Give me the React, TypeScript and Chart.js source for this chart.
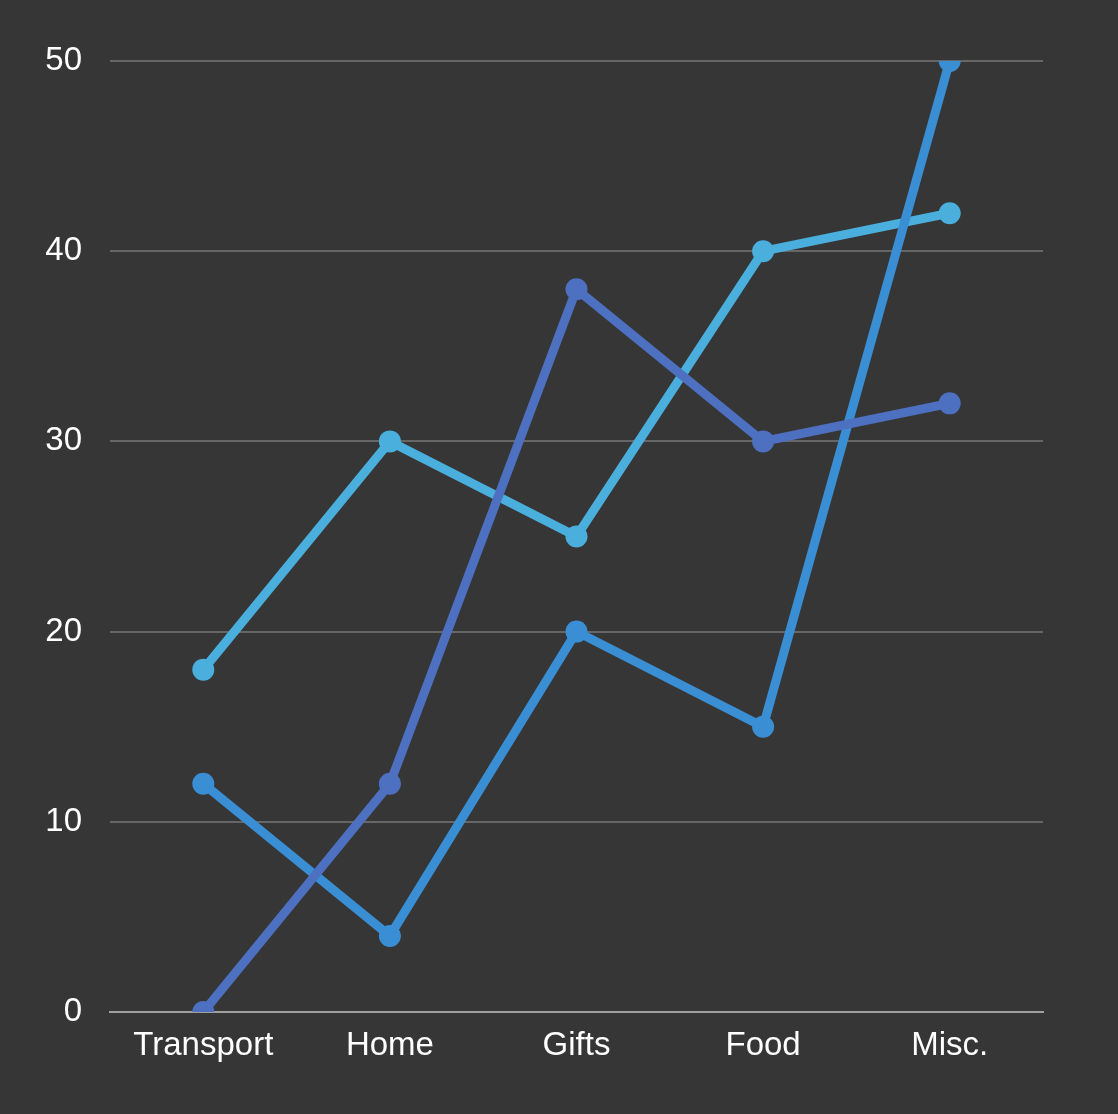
import { useRef, useEffect } from 'react';
import { Chart, registerables } from 'chart.js';

Chart.register(...registerables);

const categories = ['Transport', 'Home', 'Gifts', 'Food', 'Misc.'];
const seriesA = [0, 12, 38, 30, 32];
const seriesB = [18, 30, 25, 40, 42];
const seriesC = [12, 4, 20, 15, 50];

const colorA = '#4e70c0';
const colorB = '#4aafdc';
const colorC = '#3a8fd4';

export default function App() {
  const canvasRef = useRef<HTMLCanvasElement>(null);

  useEffect(() => {
    if (!canvasRef.current) return;
    const line = (data: number[], color: string) => ({
      data,
      borderColor: color,
      backgroundColor: color,
      borderWidth: 9,
      pointRadius: 11,
      pointHoverRadius: 11,
      pointBorderWidth: 0,
      tension: 0,
    });
    const chart = new Chart(canvasRef.current, {
      type: 'line',
      data: {
        labels: categories,
        datasets: [line(seriesA, colorA), line(seriesC, colorC), line(seriesB, colorB)],
      },
      options: {
        animation: false,
        responsive: false,
        layout: { padding: { top: 61, right: 75, bottom: 0, left: 0 } },
        plugins: { legend: { display: false }, tooltip: { enabled: false } },
        scales: {
          x: {
            offset: true,
            grid: { display: false, drawTicks: false },
            border: { color: '#a0a0a0', width: 2 },
            ticks: { color: '#ffffff', font: { family: 'Liberation Sans, Arial', size: 33 }, padding: 14, maxRotation: 0 },
            afterFit: (s: any) => { s.height = 102; },
          },
          y: {
            min: 0,
            max: 50,
            ticks: { stepSize: 10, color: '#ffffff', font: { family: 'Liberation Sans, Arial', size: 33 }, padding: 28 },
            grid: { color: '#666666', lineWidth: 2, drawTicks: false },
            border: { display: false },
            afterFit: (s: any) => { s.width = 110; },
          },
        },
      },
    });
    return () => chart.destroy();
  }, []);

  return (
    <div style={{ position: 'absolute', left: 0, top: 0, width: 1118, height: 1114, background: '#363636' }}>
      <canvas ref={canvasRef} width={1118} height={1114} style={{ display: 'block' }} />
    </div>
  );
}
